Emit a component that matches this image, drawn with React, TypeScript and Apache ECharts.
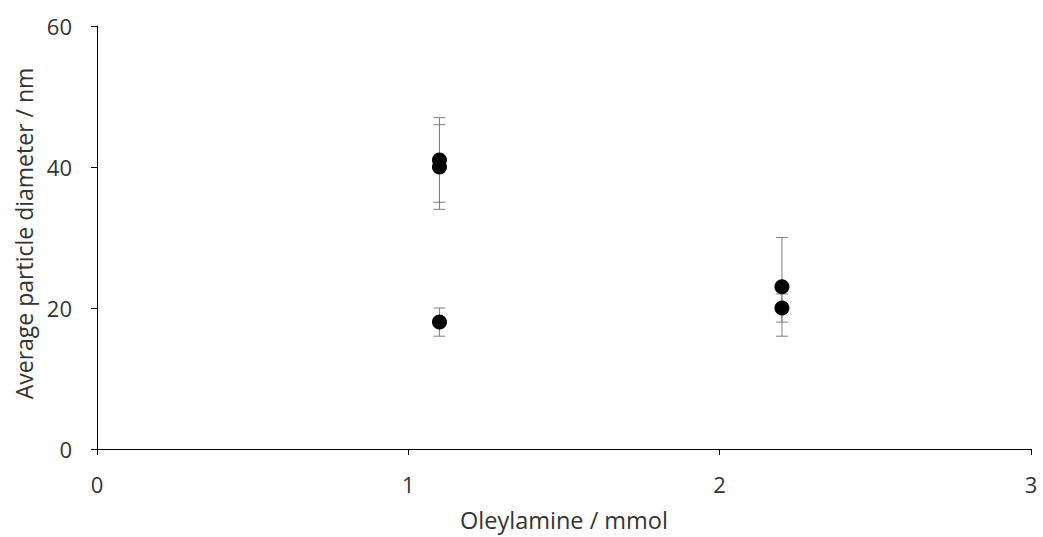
import React, { useEffect, useRef } from "react";
import * as echarts from "echarts";

const xValues = [1.1, 1.1, 1.1, 2.2, 2.2];
const yValues = [41, 40, 18, 23, 20];
const errLow = [35, 34, 16, 16, 18];
const errHigh = [47, 46, 20, 30, 22];
const xTicks = [0, 1, 2, 3];
const yTicks = [0, 20, 40, 60];

const FONT = "'Open Sans', 'Noto Sans', sans-serif";
const TEXT = "#333333";

export default function App() {
  const ref = useRef<HTMLDivElement>(null);
  useEffect(() => {
    if (!ref.current) return;
    const chart = echarts.init(ref.current, null, { renderer: "svg" });
    const points = xValues.map((x, i) => [x, yValues[i]]);
    const errData = xValues.map((x, i) => [x, errLow[i], errHigh[i]]);
    chart.setOption({
      animation: false,
      backgroundColor: "#fff",
      grid: { left: 97, right: 12, top: 26, bottom: 88, containLabel: false },
      xAxis: {
        type: "value",
        min: xTicks[0],
        max: xTicks[xTicks.length - 1],
        interval: 1,
        name: "Oleylamine / mmol",
        nameLocation: "middle",
        nameGap: 59,
        nameTextStyle: { fontFamily: FONT, fontSize: 23.5, color: TEXT },
        axisLine: { show: true, onZero: false, lineStyle: { color: "#000", width: 1 } },
        axisTick: { show: true, length: 6, lineStyle: { color: "#000" } },
        axisLabel: { fontFamily: FONT, fontSize: 22, color: TEXT, margin: 24 },
        splitLine: { show: false },
      },
      yAxis: {
        type: "value",
        min: yTicks[0],
        max: yTicks[yTicks.length - 1],
        interval: 20,
        name: "Average particle diameter / nm",
        nameLocation: "middle",
        nameGap: 60,
        nameTextStyle: { fontFamily: FONT, fontSize: 23, color: TEXT, padding: [0, 0, 0, 8] },
        axisLine: { show: true, onZero: false, lineStyle: { color: "#000", width: 1 } },
        axisTick: { show: true, length: 6, lineStyle: { color: "#000" } },
        axisLabel: { fontFamily: FONT, fontSize: 22, color: TEXT, margin: 25 },
        splitLine: { show: false },
      },
      series: [
        {
          type: "custom",
          z: 1,
          data: errData,
          encode: { x: 0, y: [1, 2] },
          renderItem: (params: any, api: any) => {
            const x = api.value(0);
            const lo = api.coord([x, api.value(1)]);
            const hi = api.coord([x, api.value(2)]);
            const w = 6;
            const style = { stroke: "#7f7f7f", lineWidth: 1 };
            return {
              type: "group",
              children: [
                { type: "line", shape: { x1: lo[0], y1: lo[1], x2: hi[0], y2: hi[1] }, style },
                { type: "line", shape: { x1: lo[0] - w, y1: lo[1], x2: lo[0] + w, y2: lo[1] }, style },
                { type: "line", shape: { x1: hi[0] - w, y1: hi[1], x2: hi[0] + w, y2: hi[1] }, style },
              ],
            };
          },
        },
        {
          type: "scatter",
          z: 2,
          data: points,
          symbol: "circle",
          symbolSize: 15,
          itemStyle: { color: "#000", opacity: 1 },
        },
      ],
    });
    return () => chart.dispose();
  }, []);
  return <div ref={ref} style={{ width: 1043, height: 537, position: "absolute", left: 0, top: 0 }} />;
}
